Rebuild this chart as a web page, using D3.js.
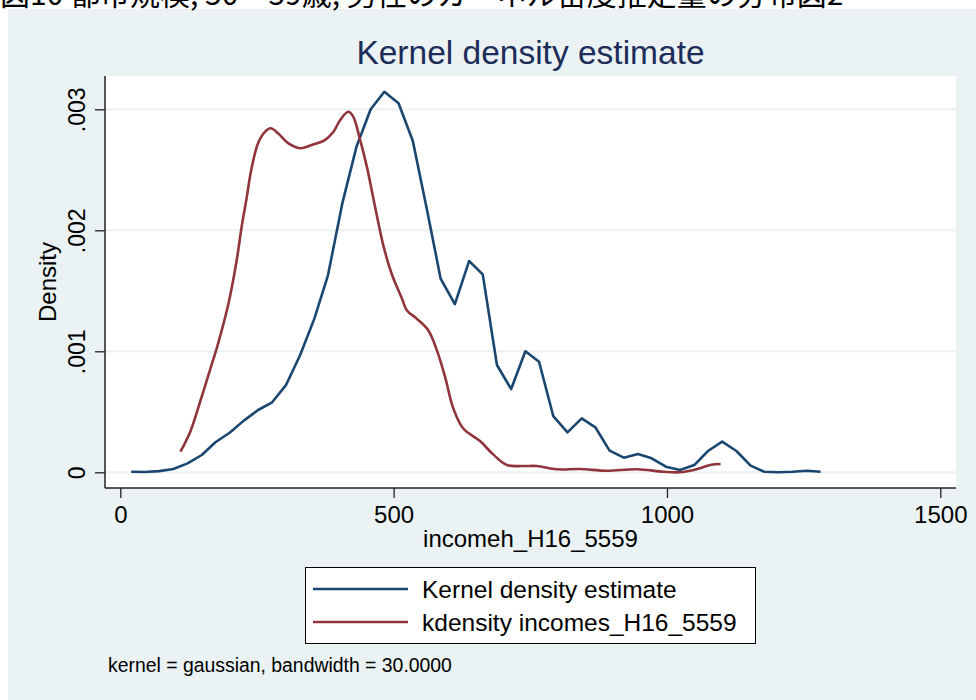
<!DOCTYPE html>
<html>
<head>
<meta charset="utf-8">
<script src="https://cdn.jsdelivr.net/npm/d3@7/dist/d3.min.js"></script>
<style>
  html, body { margin: 0; padding: 0; background: #ffffff; }
  svg { display: block; }
  text { font-family: "Liberation Sans", Arial, Helvetica, sans-serif; }
</style>
</head>
<body>
<svg id="chart" width="976" height="700"></svg>
<script>
// Kernel density estimate (Stata kdensity, n = 50 grid points) of incomeh_H16_5559
const kdeX = [20, 45, 71, 97, 123, 149, 174, 200, 226, 252,
              277, 303, 329, 355, 380, 406, 432, 458, 483, 509,
              535, 561, 586, 612, 638, 663, 689, 715, 741, 766,
              792, 818, 844, 869, 895, 921, 947, 972, 998, 1024,
              1050, 1075, 1101, 1127, 1153, 1178, 1204, 1230, 1256, 1281];
const kdeY = [0.000005, 0.000002, 0.000010, 0.000027, 0.000074, 0.000143, 0.000248, 0.000327, 0.000427, 0.000515,
              0.000575, 0.000720, 0.000970, 0.001270, 0.001630, 0.002220, 0.002690, 0.003000, 0.003145, 0.003050,
              0.002740, 0.002170, 0.001600, 0.001390, 0.001746, 0.001636, 0.000887, 0.000688, 0.001000, 0.000914,
              0.000465, 0.000330, 0.000446, 0.000372, 0.000179, 0.000121, 0.000151, 0.000116, 0.000046, 0.000019,
              0.000060, 0.000176, 0.000253, 0.000176, 0.000055, 0.000005, 0.000000, 0.000005, 0.000013, 0.000005];

// kdensity incomes_H16_5559 (smooth curve)
const incX = [110, 128, 146, 164, 179, 198, 213, 222, 231, 240,
              252, 265, 275, 289, 307, 329, 350, 374, 390, 402,
              417, 426, 438, 451, 466, 481, 496, 515, 524, 542,
              563, 579, 594, 609, 627, 658, 682, 707, 737, 762,
              798, 841, 890, 945, 993, 1024, 1054, 1079, 1098];
const incY = [0.000170, 0.000336, 0.000583, 0.000845, 0.001066, 0.001397, 0.001755, 0.002030, 0.002264, 0.002510,
              0.002720, 0.002815, 0.002843, 0.002800, 0.002720, 0.002678, 0.002705, 0.002746, 0.002815, 0.002910,
              0.002980, 0.002940, 0.002760, 0.002526, 0.002195, 0.001878, 0.001645, 0.001438, 0.001340, 0.001270,
              0.001176, 0.001010, 0.000790, 0.000530, 0.000364, 0.000258, 0.000148, 0.000060, 0.000052, 0.000052,
              0.000025, 0.000027, 0.000013, 0.000025, 0.000005, 0.000000, 0.000025, 0.000060, 0.000068];

const xTicks = [0, 500, 1000, 1500];
const yTicks = [0, 0.001, 0.002, 0.003];
const yTickLabels = ["0", ".001", ".002", ".003"];

const seriesNames = ["Kernel density estimate", "kdensity incomes_H16_5559"];
const seriesColors = ["#1a476f", "#90353b"];

const caption = "図10 都市規模, 50～59歳, 男性のカーネル密度推定量の分布図2";
const chartTitle = "Kernel density estimate";
const xTitle = "incomeh_H16_5559";
const yTitle = "Density";
const note = "kernel = gaussian, bandwidth = 30.0000";

const svg = d3.select("#chart");

// graph region and plot region
const region = { left: 8, top: 9 };
const plot = { left: 105, right: 956, top: 76, bottom: 488 };
const bg = "#eaf2f3";

svg.append("rect")
  .attr("x", region.left).attr("y", region.top)
  .attr("width", 976 - region.left).attr("height", 700 - region.top)
  .attr("fill", bg);

svg.append("rect")
  .attr("x", plot.left).attr("y", plot.top)
  .attr("width", plot.right - plot.left).attr("height", plot.bottom - plot.top)
  .attr("fill", "#ffffff");

// caption line above the graph; only its lower part sits inside the page
svg.append("text")
  .attr("x", 0).attr("y", 5)
  .style("font-family", "'Noto Sans CJK JP', sans-serif")
  .style("font-size", "30px")
  .attr("fill", "#000")
  .text(caption);

const x = d3.scaleLinear().domain([0, 1500]).range([120.3, 940.3]);
const y = d3.scaleLinear().domain([0, 0.003]).range([472.3, 109.3]);

// horizontal grid lines
svg.append("g").selectAll("line")
  .data(yTicks)
  .join("line")
  .attr("x1", plot.left).attr("x2", plot.right)
  .attr("y1", d => y(d)).attr("y2", d => y(d))
  .attr("stroke", bg).attr("stroke-width", 2);

// y axis
const yAxis = svg.append("g")
  .attr("transform", `translate(${plot.left},0)`)
  .call(d3.axisLeft(y).tickValues(yTicks).tickSize(10)
        .tickFormat((d, i) => yTickLabels[i]));
yAxis.select(".domain").remove();
yAxis.selectAll(".tick line").attr("stroke", "#222").attr("stroke-width", 1.3);
yAxis.selectAll(".tick text")
  .attr("transform", "rotate(-90)")
  .attr("x", 0).attr("y", -20).attr("dy", 0)
  .attr("text-anchor", "middle")
  .style("font-size", "23px")
  .style("font-family", "'Liberation Sans', Arial, sans-serif")
  .attr("fill", "#000");
svg.append("line")
  .attr("x1", plot.left).attr("x2", plot.left)
  .attr("y1", plot.top).attr("y2", plot.bottom)
  .attr("stroke", "#222").attr("stroke-width", 1.5);

// x axis
const xAxis = svg.append("g")
  .attr("transform", `translate(0,${plot.bottom})`)
  .call(d3.axisBottom(x).tickValues(xTicks).tickSize(10).tickFormat(d3.format("d")));
xAxis.select(".domain").remove();
xAxis.selectAll(".tick line").attr("stroke", "#222").attr("stroke-width", 1.3);
xAxis.selectAll(".tick text")
  .attr("y", 35).attr("dy", 0)
  .style("font-size", "24px")
  .style("font-family", "'Liberation Sans', Arial, sans-serif")
  .attr("fill", "#000");
svg.append("line")
  .attr("x1", plot.left).attr("x2", plot.right)
  .attr("y1", plot.bottom).attr("y2", plot.bottom)
  .attr("stroke", "#222").attr("stroke-width", 1.5);

// axis titles
svg.append("text")
  .attr("x", (plot.left + plot.right) / 2).attr("y", 547)
  .attr("text-anchor", "middle")
  .style("font-size", "24px")
  .text(xTitle);

svg.append("text")
  .attr("transform", "translate(56,282) rotate(-90)")
  .attr("text-anchor", "middle")
  .style("font-size", "24px")
  .text(yTitle);

// chart title
svg.append("text")
  .attr("x", (plot.left + plot.right) / 2).attr("y", 64)
  .attr("text-anchor", "middle")
  .style("font-size", "33.5px")
  .attr("fill", "#1c2d5a")
  .text(chartTitle);

// density curves
const kdeData = kdeX.map((v, i) => [v, kdeY[i]]);
const incData = incX.map((v, i) => [v, incY[i]]);

svg.append("path")
  .datum(kdeData)
  .attr("fill", "none")
  .attr("stroke", seriesColors[0])
  .attr("stroke-width", 2.6)
  .attr("stroke-linejoin", "round")
  .attr("d", d3.line().x(d => x(d[0])).y(d => y(d[1])));

svg.append("path")
  .datum(incData)
  .attr("fill", "none")
  .attr("stroke", seriesColors[1])
  .attr("stroke-width", 2.6)
  .attr("stroke-linejoin", "round")
  .attr("d", d3.line().curve(d3.curveCatmullRom.alpha(0.5)).x(d => x(d[0])).y(d => y(d[1])));

// legend
const legend = svg.append("g");
legend.append("rect")
  .attr("x", 305.5).attr("y", 567.5)
  .attr("width", 450).attr("height", 76)
  .attr("fill", "#fff").attr("stroke", "#000").attr("stroke-width", 1);
seriesNames.forEach((name, i) => {
  const cy = 589 + i * 33;
  legend.append("line")
    .attr("x1", 313).attr("x2", 408)
    .attr("y1", cy).attr("y2", cy)
    .attr("stroke", seriesColors[i]).attr("stroke-width", 2.6);
  legend.append("text")
    .attr("x", 422).attr("y", cy + 8.5)
    .style("font-size", "24.5px")
    .text(name);
});

// note
svg.append("text")
  .attr("x", 108).attr("y", 672)
  .style("font-size", "19.4px")
  .text(note);
</script>
</body>
</html>
